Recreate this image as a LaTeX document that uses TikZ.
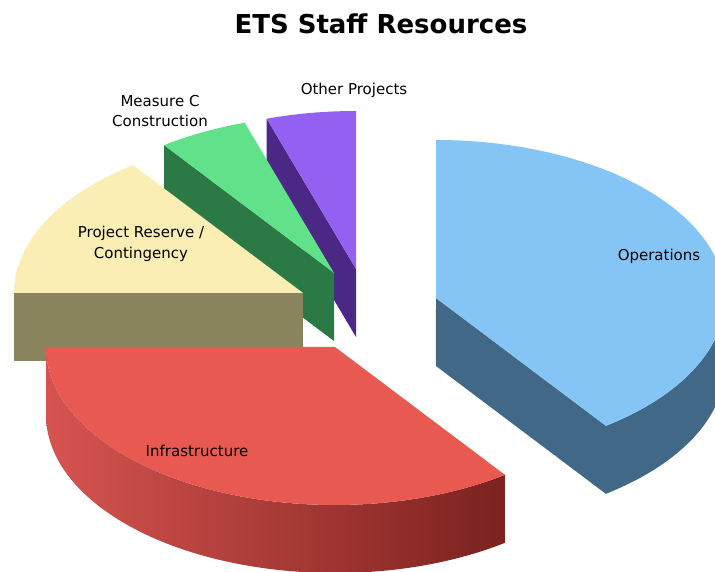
\documentclass[tikz,border=0pt]{standalone}
\usepackage{fontspec}
\usetikzlibrary{calc}
\setmainfont{DejaVu Sans}
\definecolor{opstop}{HTML}{85C5F5}
\definecolor{opsdark}{HTML}{416987}
\definecolor{othtop}{HTML}{9360F2}
\definecolor{othdark}{HTML}{4B2886}
\definecolor{mctop}{HTML}{62E18B}
\definecolor{mcdark}{HTML}{2B7A45}
\definecolor{restop}{HTML}{FAEEB5}
\definecolor{resdark}{HTML}{8A845F}
\definecolor{inftop}{HTML}{E85951}
\definecolor{infL}{HTML}{D65450}
\definecolor{infM}{HTML}{B53F3A}
\definecolor{infR}{HTML}{7C221F}
\tikzset{
  lbl/.style={font=\fontsize{15}{20.5}\selectfont, align=center, inner sep=0pt},
  ttl/.style={font=\fontsize{26}{30}\selectfont\bfseries, inner sep=0pt},
  er/.style={x radius=289pt, y radius=158pt}
}
\begin{document}
\begin{tikzpicture}[x=1pt,y=1pt]
\useasboundingbox (0,0) rectangle (715,571);
\fill[white] (0,0) rectangle (715,571);
\clip (0,0) rectangle (715,571);
% Operations
\coordinate (cO) at (436,273);
\fill[opsdark] (cO) -- ++(-54:289pt and 158pt) coordinate (rO)
  arc[start angle=-54, end angle=0, er] -- ++(0,-68)
  arc[start angle=0, end angle=-54, er] -- ++(-169.9,127.8) -- cycle;
\fill[opstop] (cO) -- (rO) arc[start angle=-54, end angle=90, er] -- cycle;
% Other Projects
\coordinate (cP) at (356,302);
\fill[othdark] (cP) -- ++(108:289pt and 158pt) coordinate (rP) -- ++(0,-68) -- ($(cP)+(0,-68)$) -- cycle;
\fill[othtop] (cP) -- ++(90:289pt and 158pt) arc[start angle=90, end angle=108, er] -- cycle;
% Measure C
\coordinate (cM) at (334,298);
\fill[mcdark] (cM) -- ++(126:289pt and 158pt) -- ++(0,-68) -- ($(cM)+(0,-68)$) -- cycle;
\fill[mctop] (cM) -- ++(108:289pt and 158pt) arc[start angle=108, end angle=126, er] -- cycle;
% Project Reserve
\coordinate (cR) at (303,278);
\fill[resdark] (cR) -- ++(-289,0) -- ++(0,-68) -- ++(289,0) -- cycle;
\fill[restop] (cR) -- ++(126:289pt and 158pt) arc[start angle=126, end angle=180, er] -- cycle;
% Infrastructure
\coordinate (cI) at (335,224);
\shade[left color=infL, middle color=infM, right color=infR]
  (cI) ++(-289,0) arc[start angle=180, end angle=306, er] -- ++(0,-68)
  arc[start angle=306, end angle=180, er] -- cycle;
\fill[inftop] (cI) -- ++(-289,0) arc[start angle=180, end angle=306, er] -- cycle;
% Labels
\node[ttl] (title) at (381,547) {ETS Staff Resources};
\node[lbl] (lops) at (659,315) {Operations};
\node[lbl] (linf) at (197,120) {Infrastructure};
\node[lbl] (lres) at (141,327) {Project Reserve /\\Contingency};
\node[lbl] (lmc) at (160,460) {Measure C\\Construction};
\node[lbl] (loth) at (354,481) {Other Projects};
\end{tikzpicture}
\end{document}
